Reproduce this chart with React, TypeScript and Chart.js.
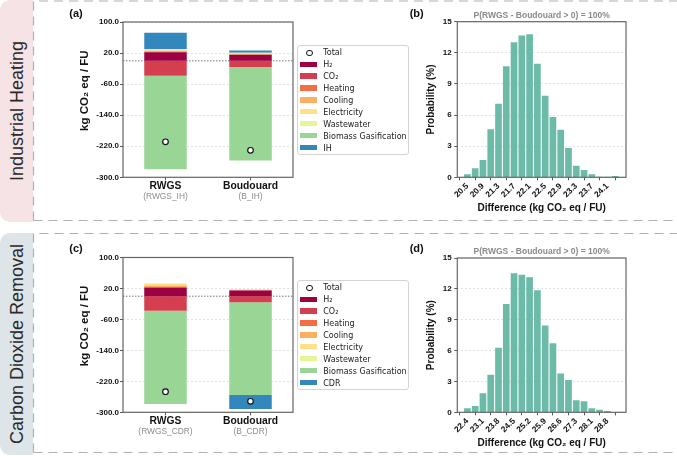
import React, { useEffect, useRef } from 'react';
import { Chart, registerables } from 'chart.js';

Chart.register(...registerables);

const W = 677;
const H = 456;
const SANS = '"Liberation Sans", Arial, Helvetica, sans-serif';
const LEGEND_FONT = '"DejaVu Sans", "Liberation Sans", sans-serif';

// Process routes on the x axis of the stacked panels
const configurations = ['RWGS', 'Boudouard'];
const ihCaseCodes = ['(RWGS_IH)', '(B_IH)'];
const cdrCaseCodes = ['(RWGS_CDR)', '(B_CDR)'];

// Contribution categories shared by both scenarios
const contributionNames = ['H₂', 'CO₂', 'Heating', 'Cooling', 'Electricity', 'Wastewater', 'Biomass Gasification'];
const contributionColors = ['#9e0142', '#d53e4f', '#f46d43', '#fdae61', '#fee08b', '#e6f598', '#99d594'];
const extraColor = '#3288bd';

// Industrial heating scenario, kg CO2 eq / FU  [RWGS, Boudouard]
const h2IH = [22.0, 15.5];
const co2IH = [-38.5, -16.0];
const heatingIH = [0.8, 0.4];
const coolingIH = [3.0, 1.8];
const electricityIH = [4.4, 2.6];
const wastewaterIH = [0.3, 0.2];
const biomassIH = [-240.5, -241.0];
const ihIH = [41.5, 6.2];
const totalIH = [-208.5, -230.5];

// Carbon dioxide removal scenario, kg CO2 eq / FU  [RWGS, Boudouard]
const h2CDR = [22.6, 14.8];
const co2CDR = [-37.7, -15.5];
const heatingCDR = [0.8, 0.3];
const coolingCDR = [4.0, 1.2];
const electricityCDR = [5.5, 1.6];
const wastewaterCDR = [0.3, 0.1];
const biomassCDR = [-240.9, -239.8];
const cdrCDR = [0, -36.2];
const totalCDR = [-246.8, -271.6];

const stackTicks = [100, 20, -60, -140, -220, -300];
const stackAxisTitle = 'kg CO₂ eq / FU';

// Monte Carlo difference RWGS - Boudouard, probability (%) per bin
const diffProbIH = [0.29, 0.87, 1.67, 4.63, 7.1, 10.7, 13.01, 13.68, 13.78, 10.95, 7.87, 5.81, 4.59, 2.83, 1.12, 0.71, 0.29, 0.06, 0.06, 0.13];
const diffTickLabelsIH = ['20.5', '20.9', '21.3', '21.7', '22.1', '22.5', '22.9', '23.3', '23.7', '24.1'];
const diffProbCDR = [0.39, 0.62, 1.85, 3.66, 6.28, 10.53, 13.51, 13.38, 13.12, 11.86, 8.45, 6.71, 3.76, 3.14, 1.17, 1.07, 0.39, 0.26, 0.13, 0.03];
const diffTickLabelsCDR = ['22.4', '23.1', '23.8', '24.5', '25.2', '25.9', '26.6', '27.3', '28.1', '28.8'];
const probTicks = [0, 3, 6, 9, 12, 15];
const histTitle = 'P(RWGS - Boudouard > 0) = 100%';

type Area = { left: number; top: number; right: number; bottom: number };

const canvasStyle: React.CSSProperties = { position: 'absolute', left: 0, top: 0 };
const tickFont = { family: SANS, size: 8, weight: 'bold' as const };
const titleFont = { family: SANS, size: 10, weight: 'bold' as const };

// Full box around the plotting area
const framePlugin = {
  id: 'frame',
  afterDraw(chart: any) {
    const { ctx, chartArea: a } = chart;
    ctx.save();
    ctx.strokeStyle = '#666';
    ctx.lineWidth = 1.2;
    ctx.strokeRect(a.left, a.top, a.right - a.left, a.bottom - a.top);
    ctx.restore();
  },
};

// Dotted reference line at zero
const zeroLinePlugin = {
  id: 'zeroLine',
  beforeDatasetsDraw(chart: any) {
    const { ctx, chartArea: a } = chart;
    const y = chart.scales.y.getPixelForValue(0);
    ctx.save();
    ctx.strokeStyle = '#777';
    ctx.lineWidth = 1;
    ctx.setLineDash([1.5, 1.5]);
    ctx.beginPath();
    ctx.moveTo(a.left, y);
    ctx.lineTo(a.right, y);
    ctx.stroke();
    ctx.restore();
  },
};

function StackedPanel({ series, lastName, totals, codes, area }: {
  series: number[][]; lastName: string; totals: number[]; codes: string[]; area: Area;
}) {
  const ref = useRef<HTMLCanvasElement>(null);
  useEffect(() => {
    const names = [...contributionNames, lastName];
    const colors = [...contributionColors, extraColor];
    const datasets: any[] = series.map((vals, i) => ({
      type: 'bar',
      label: names[i],
      data: vals,
      backgroundColor: colors[i],
      borderWidth: 0,
      stack: 'parts',
      barPercentage: 0.5,
      categoryPercentage: 1,
    }));
    datasets.push({
      type: 'line',
      label: 'Total',
      data: totals,
      showLine: false,
      pointRadius: 2.8,
      pointBackgroundColor: '#ffffff',
      pointBorderColor: '#111111',
      pointBorderWidth: 1.2,
      stack: 'total',
      order: -1,
    });
    // Case codes under the route names, and the rotated value-axis title
    const labelPlugin = {
      id: 'caseLabels',
      afterDraw(chart: any) {
        const { ctx, chartArea: a } = chart;
        const xs = chart.scales.x;
        ctx.save();
        ctx.fillStyle = '#8c8c8c';
        ctx.font = `8.4px ${SANS}`;
        ctx.textAlign = 'center';
        ctx.textBaseline = 'middle';
        codes.forEach((c, i) => ctx.fillText(c, xs.getPixelForValue(i), a.bottom + 19.4));
        ctx.translate(a.left - 38, (a.top + a.bottom) / 2 - 9);
        ctx.rotate(-Math.PI / 2);
        ctx.fillStyle = '#111';
        ctx.font = `bold 11.5px ${SANS}`;
        ctx.fillText(stackAxisTitle, 0, 0);
        ctx.restore();
      },
    };
    const yWidth = 44;
    const xHeight = 40;
    const chart = new Chart(ref.current as HTMLCanvasElement, {
      type: 'bar',
      data: { labels: configurations, datasets },
      options: {
        responsive: false,
        animation: false,
        devicePixelRatio: 1,
        events: [],
        layout: {
          padding: { left: area.left - yWidth, top: area.top, right: W - area.right, bottom: H - area.bottom - xHeight },
        },
        plugins: { legend: { display: false }, tooltip: { enabled: false } },
        scales: {
          x: {
            stacked: true,
            offset: true,
            grid: { display: true, drawOnChartArea: false, offset: false, tickLength: 3, tickColor: '#555', tickWidth: 1 },
            border: { display: false },
            ticks: { color: '#111', font: { family: SANS, size: 10.3, weight: 'bold' }, padding: 0, maxRotation: 0 },
            afterFit: (s: any) => { s.height = xHeight; },
          },
          y: {
            stacked: true,
            min: -300,
            max: 100,
            afterBuildTicks: (s: any) => { s.ticks = stackTicks.map((v) => ({ value: v })); },
            ticks: { callback: (v: any) => Number(v).toFixed(1), color: '#111', font: tickFont, padding: 1 },
            grid: { color: '#dcdcdc', lineWidth: 0.8, tickLength: 3, tickColor: '#555', tickWidth: 1 },
            border: { display: false, dash: [2, 2] },
            afterFit: (s: any) => { s.width = yWidth; },
          },
        },
      } as any,
      plugins: [zeroLinePlugin, framePlugin, labelPlugin],
    });
    return () => chart.destroy();
  }, []);
  return <canvas ref={ref} width={W} height={H} style={canvasStyle} />;
}

function HistogramPanel({ probs, tickLabels, area, titleCenter }: {
  probs: number[]; tickLabels: string[]; area: Area; titleCenter: number;
}) {
  const ref = useRef<HTMLCanvasElement>(null);
  useEffect(() => {
    const yWidth = 31.6;
    const xHeight = 37;
    const titleLine = 8.5 * 1.2;
    const titleTop = titleCenter - titleLine / 2;
    const chart = new Chart(ref.current as HTMLCanvasElement, {
      type: 'bar',
      data: {
        datasets: [{
          label: 'Probability',
          data: probs.map((p, i) => ({ x: i, y: p })),
          backgroundColor: '#6cbba8',
          borderWidth: 0,
          barPercentage: 0.86,
          categoryPercentage: 1,
        }],
      },
      options: {
        responsive: false,
        animation: false,
        devicePixelRatio: 1,
        events: [],
        layout: {
          padding: { left: area.left - yWidth, top: titleTop, right: W - area.right, bottom: H - area.bottom - xHeight },
        },
        plugins: {
          legend: { display: false },
          tooltip: { enabled: false },
          title: {
            display: true,
            text: histTitle,
            color: '#8a8a8a',
            font: { family: SANS, size: 8.5, weight: 'bold', lineHeight: 1.2 },
            padding: { top: 0, bottom: area.top - titleTop - titleLine },
            fullSize: false,
          },
        },
        scales: {
          x: {
            type: 'linear',
            min: -1.3,
            max: 20.4,
            offset: false,
            afterBuildTicks: (s: any) => { s.ticks = tickLabels.map((_, k) => ({ value: 2 * k })); },
            ticks: {
              autoSkip: false,
              minRotation: 45,
              maxRotation: 45,
              callback: (_v: any, i: number) => tickLabels[i],
              color: '#111',
              font: { family: SANS, size: 8.3, weight: 'bold' },
              padding: 1,
            },
            grid: { display: true, drawOnChartArea: false, tickLength: 3, tickColor: '#555', tickWidth: 1 },
            border: { display: false },
            title: { display: true, text: 'Difference (kg CO₂ eq / FU)', color: '#111', font: titleFont, padding: 0 },
            afterFit: (s: any) => { s.height = xHeight; },
          },
          y: {
            min: 0,
            max: 15,
            afterBuildTicks: (s: any) => { s.ticks = probTicks.map((v) => ({ value: v })); },
            ticks: { color: '#111', font: tickFont, padding: 2.6 },
            grid: { color: '#dcdcdc', lineWidth: 0.8, tickLength: 3, tickColor: '#555', tickWidth: 1 },
            border: { display: false, dash: [2, 2] },
            title: { display: true, text: 'Probability (%)', color: '#111', font: titleFont, padding: 0 },
            afterFit: (s: any) => { s.width = yWidth; },
          },
        },
      } as any,
      plugins: [framePlugin],
    });
    return () => chart.destroy();
  }, []);
  return <canvas ref={ref} width={W} height={H} style={canvasStyle} />;
}

function Legend({ left, top, lastName }: { left: number; top: number; lastName: string }) {
  const names = [...contributionNames, lastName];
  const colors = [...contributionColors, extraColor];
  const rowH = 11.9;
  const rows = [
    <div key="total" style={{ position: 'absolute', left: 0, top: 1.35, height: rowH, width: '100%' }}>
      <div style={{ position: 'absolute', left: 8.4, top: rowH / 2 - 3.4, width: 4.6, height: 4.6, borderRadius: '50%', border: '1px solid #111', background: '#fff' }} />
      <span style={{ position: 'absolute', left: 25.6, top: 0, lineHeight: `${rowH}px` }}>Total</span>
    </div>,
    ...names.map((n, i) => (
      <div key={n} style={{ position: 'absolute', left: 0, top: 1.35 + rowH * (i + 1), height: rowH, width: '100%' }}>
        <div style={{ position: 'absolute', left: 2.6, top: rowH / 2 - 2.65 - 1, width: 16.7, height: 5.3, background: colors[i] }} />
        <span style={{ position: 'absolute', left: 25.6, top: 0, lineHeight: `${rowH}px` }}>{n}</span>
      </div>
    )),
  ];
  return (
    <div style={{
      position: 'absolute', left, top, width: 112.6, height: 110, boxSizing: 'border-box',
      border: '1px solid #d4d4d4', borderRadius: 3, background: 'rgba(255,255,255,0.9)',
      fontFamily: LEGEND_FONT, fontSize: 8, color: '#222', whiteSpace: 'nowrap',
    }}>
      {rows}
    </div>
  );
}

function PanelLetter({ x, y, text }: { x: number; y: number; text: string }) {
  return (
    <div style={{
      position: 'absolute', left: x, top: y, transform: 'translate(-50%, -50%)',
      fontFamily: SANS, fontWeight: 'bold', fontSize: 11, color: '#111', whiteSpace: 'nowrap',
    }}>{text}</div>
  );
}

function SideLabel({ y, text }: { y: number; text: string }) {
  return (
    <div style={{
      position: 'absolute', left: 17, top: y, transform: 'translate(-50%, -50%) rotate(-90deg)',
      fontFamily: SANS, fontSize: 18, color: '#2a2a2a', whiteSpace: 'nowrap',
    }}>{text}</div>
  );
}

export default function App() {
  const ihSeries = [h2IH, co2IH, heatingIH, coolingIH, electricityIH, wastewaterIH, biomassIH, ihIH];
  const cdrSeries = [h2CDR, co2CDR, heatingCDR, coolingCDR, electricityCDR, wastewaterCDR, biomassCDR, cdrCDR];
  const dash = { stroke: '#b0b0b0', strokeWidth: 1.2, strokeDasharray: '9 6', fill: 'none' };
  return (
    <div style={{ position: 'absolute', left: 0, top: 0, width: W, height: H, background: '#fff', overflow: 'hidden' }}>
      <div style={{ position: 'absolute', left: 0, top: 0, width: 33, height: 221.5, background: '#f6e3e6', borderRadius: '10px 0 0 10px' }} />
      <div style={{ position: 'absolute', left: 0, top: 233, width: 33, height: 222, background: '#dde5e9', borderRadius: '10px 0 0 10px' }} />
      <svg width={W} height={H} style={{ position: 'absolute', left: 0, top: 0 }}>
        <path d={`M33.5 220.5 L33.5 1 L${W} 1 M33.5 220.5 L${W} 220.5`} {...dash} />
        <path d={`M33.5 452.5 L33.5 233.5 L${W} 233.5 M33.5 452.5 L${W} 452.5`} {...dash} />
      </svg>
      <SideLabel y={110.5} text="Industrial Heating" />
      <SideLabel y={344} text="Carbon Dioxide Removal" />

      <StackedPanel series={ihSeries} lastName="IH" totals={totalIH} codes={ihCaseCodes}
        area={{ left: 123, top: 22, right: 293, bottom: 177.3 }} />
      <StackedPanel series={cdrSeries} lastName="CDR" totals={totalCDR} codes={cdrCaseCodes}
        area={{ left: 123, top: 257.5, right: 293, bottom: 412.3 }} />
      <HistogramPanel probs={diffProbIH} tickLabels={diffTickLabelsIH} titleCenter={16}
        area={{ left: 457.3, top: 21.7, right: 626, bottom: 177.3 }} />
      <HistogramPanel probs={diffProbCDR} tickLabels={diffTickLabelsCDR} titleCenter={252}
        area={{ left: 457.3, top: 258, right: 626, bottom: 412.3 }} />

      <Legend left={296.7} top={45} lastName="IH" />
      <Legend left={296.7} top={280} lastName="CDR" />

      <PanelLetter x={76} y={13} text="(a)" />
      <PanelLetter x={416.7} y={13} text="(b)" />
      <PanelLetter x={76} y={248} text="(c)" />
      <PanelLetter x={416.7} y={248} text="(d)" />
    </div>
  );
}
